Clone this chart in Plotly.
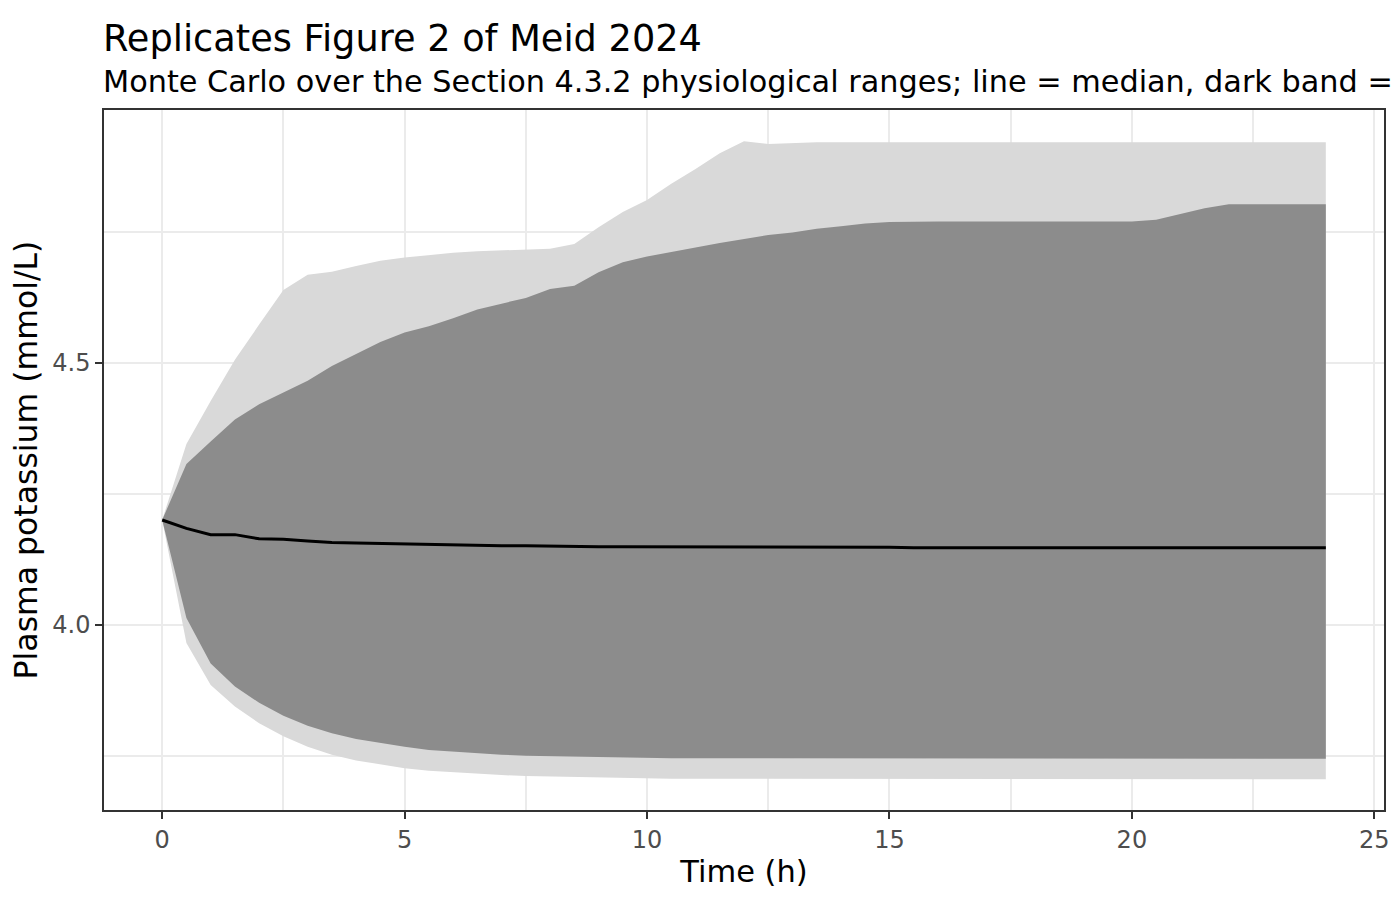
import plotly.graph_objects as go

# Time grid (h)
time_h = [0, 0.5, 1, 1.5, 2, 2.5, 3, 3.5, 4, 4.5, 5, 5.5, 6, 6.5, 7, 7.5, 8, 8.5,
          9, 9.5, 10, 10.5, 11, 11.5, 12, 12.5, 13, 13.5, 14, 14.5, 15, 15.5, 16,
          16.5, 17, 17.5, 18, 18.5, 19, 19.5, 20, 20.5, 21, 21.5, 22, 22.5, 23,
          23.5, 24]

# Outer (light) band
outer_upper = [4.200, 4.345, 4.427, 4.506, 4.573, 4.639, 4.668, 4.674, 4.685, 4.695,
               4.701, 4.706, 4.710, 4.713, 4.715, 4.716, 4.718, 4.727, 4.759, 4.788,
               4.811, 4.842, 4.870, 4.900, 4.923, 4.918, 4.920, 4.921, 4.921, 4.921,
               4.921, 4.921, 4.921, 4.921, 4.921, 4.921, 4.921, 4.921, 4.921, 4.921,
               4.921, 4.921, 4.921, 4.921, 4.921, 4.921, 4.921, 4.921, 4.921]
outer_lower = [4.200, 3.965, 3.885, 3.844, 3.812, 3.787, 3.767, 3.752, 3.741, 3.733,
               3.726, 3.721, 3.718, 3.715, 3.713, 3.711, 3.710, 3.709, 3.708, 3.707,
               3.707, 3.706, 3.706, 3.706, 3.705, 3.705, 3.705, 3.705, 3.705, 3.705,
               3.705, 3.705, 3.705, 3.705, 3.705, 3.705, 3.705, 3.705, 3.705, 3.705,
               3.705, 3.705, 3.705, 3.705, 3.705, 3.705, 3.705, 3.705, 3.705]

# Inner (dark) band
inner_upper = [4.200, 4.307, 4.350, 4.392, 4.421, 4.444, 4.466, 4.494, 4.517, 4.540,
               4.558, 4.570, 4.585, 4.602, 4.613, 4.624, 4.641, 4.647, 4.673, 4.692,
               4.703, 4.711, 4.720, 4.729, 4.737, 4.744, 4.749, 4.756, 4.761, 4.766,
               4.769, 4.770, 4.770, 4.770, 4.770, 4.770, 4.770, 4.770, 4.770, 4.770,
               4.770, 4.773, 4.784, 4.795, 4.803, 4.803, 4.803, 4.803, 4.803]
inner_lower = [4.200, 4.013, 3.926, 3.882, 3.851, 3.826, 3.807, 3.793, 3.782, 3.774,
               3.767, 3.761, 3.758, 3.754, 3.752, 3.750, 3.749, 3.748, 3.747, 3.746,
               3.746, 3.745, 3.745, 3.745, 3.744, 3.744, 3.744, 3.744, 3.744, 3.744,
               3.744, 3.744, 3.744, 3.744, 3.744, 3.744, 3.744, 3.744, 3.744, 3.744,
               3.744, 3.744, 3.744, 3.744, 3.744, 3.744, 3.744, 3.744, 3.744]

# Median
median_k = [4.200, 4.184, 4.172, 4.172, 4.164, 4.163, 4.160, 4.157, 4.156, 4.155,
            4.154, 4.153, 4.152, 4.152, 4.151, 4.151, 4.150, 4.150, 4.149, 4.149,
            4.149, 4.148, 4.148, 4.148, 4.148, 4.148, 4.148, 4.148, 4.148, 4.148,
            4.148, 4.147, 4.147, 4.147, 4.147, 4.147, 4.147, 4.147, 4.147, 4.147,
            4.147, 4.147, 4.147, 4.147, 4.147, 4.147, 4.147, 4.147, 4.147]

FONT = "DejaVu Sans"
LIGHT = "#D9D9D9"
DARK = "#8C8C8C"

fig = go.Figure()

# bande: lower invisibile, upper riempito fino al precedente
fig.add_trace(go.Scatter(x=time_h, y=outer_lower, mode="lines",
                         line=dict(width=0, color=LIGHT), showlegend=False,
                         hoverinfo="skip"))
fig.add_trace(go.Scatter(x=time_h, y=outer_upper, mode="lines", fill="tonexty",
                         fillcolor=LIGHT, line=dict(width=0, color=LIGHT),
                         showlegend=False, hoverinfo="skip"))
fig.add_trace(go.Scatter(x=time_h, y=inner_lower, mode="lines",
                         line=dict(width=0, color=DARK), showlegend=False,
                         hoverinfo="skip"))
fig.add_trace(go.Scatter(x=time_h, y=inner_upper, mode="lines", fill="tonexty",
                         fillcolor=DARK, line=dict(width=0, color=DARK),
                         showlegend=False, hoverinfo="skip"))
fig.add_trace(go.Scatter(x=time_h, y=median_k, mode="lines",
                         line=dict(width=3, color="black"), showlegend=False))

axis_common = dict(
    showline=True, linecolor="#333333", linewidth=1.5, mirror=True,
    ticks="outside", ticklen=7, tickwidth=2, tickcolor="#333333",
    tickfont=dict(family=FONT, size=24, color="#4D4D4D"),
    showgrid=True, gridcolor="#EBEBEB", gridwidth=2.4,
    zeroline=False,
)

fig.update_xaxes(
    **axis_common,
    range=[-1.2, 25.2], tick0=0, dtick=5,
    minor=dict(dtick=2.5, showgrid=True, gridcolor="#EBEBEB", gridwidth=1.6),
    title=dict(text="Time (h)", font=dict(family=FONT, size=30.5, color="black"),
               standoff=8),
)
fig.update_yaxes(
    **axis_common,
    range=[3.6463, 4.9827], tick0=4.0, dtick=0.5, tickformat=".1f",
    minor=dict(dtick=0.25, showgrid=True, gridcolor="#EBEBEB", gridwidth=1.6),
    title=dict(text="Plasma potassium (mmol/L)",
               font=dict(family=FONT, size=31.5, color="black"), standoff=10),
)

# la pagina ha un margine di 8px: figura ridotta e margini spostati
fig.update_layout(
    width=1392, height=892,
    margin=dict(l=96, r=16, t=102, b=90, autoexpand=False),
    plot_bgcolor="white", paper_bgcolor="white",
    font=dict(family=FONT),
    annotations=[
        dict(text="Replicates Figure 2 of Meid 2024", xref="paper", yref="paper",
             x=-3 / 1280, y=1 + 72 / 700, xanchor="left", yanchor="middle",
             showarrow=False, font=dict(family=FONT, size=36.7, color="black")),
        dict(text="Monte Carlo over the Section 4.3.2 physiological ranges; "
                  "line = median, dark band =",
             xref="paper", yref="paper", x=-3 / 1280, y=1 + 28 / 700,
             xanchor="left", yanchor="middle", showarrow=False,
             font=dict(family=FONT, size=30.3, color="black")),
    ],
)

fig.write_html("out.html")
